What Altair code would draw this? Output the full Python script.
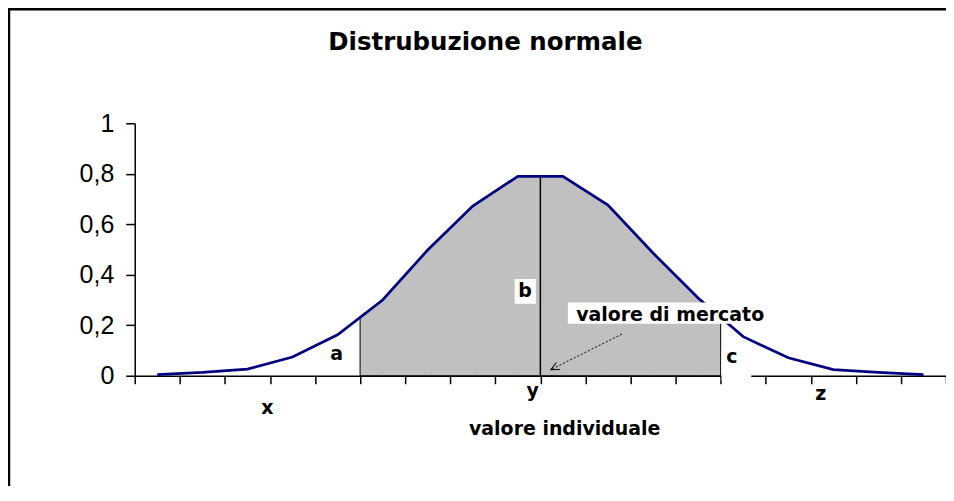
import altair as alt
import pandas as pd

# ---- data ----
x_centers = [k + 0.5 for k in range(18)]
density = [0.004, 0.013, 0.026, 0.074, 0.162, 0.30, 0.498, 0.672, 0.79,
           0.79, 0.676, 0.486, 0.308, 0.155, 0.071, 0.024, 0.013, 0.004]

area_x = [5, 5.5, 6.5, 7.5, 8.5, 9.5, 10.5, 11.5, 12.5, 13]
area_y = [0.234, 0.30, 0.498, 0.672, 0.79, 0.79, 0.676, 0.486, 0.308, 0.232]

peak_x = [9]
peak_y = [0.79]

x_ticks = list(range(19))
y_ticks = [0, 0.2, 0.4, 0.6, 0.8, 1]

label_text = ["a", "b", "c", "x", "y", "z", "valore individuale", "valore di mercato"]
label_x = [4.48, 8.66, 13.25, 2.94, 8.83, 15.22, 9.54, 11.88]
label_y = [0.087, 0.336, 0.073, -0.128, -0.061, -0.071, -0.213, 0.24]

box_x = [8.43, 9.61, 13.02]
box_x2 = [8.90, 14.04, 13.68]
box_y = [0.285, 0.206, -0.02]
box_y2 = [0.383, 0.290, 0.107]

arrow_x = [10.81, 9.23]
arrow_y = [0.165, 0.024]

title_text = ["Distrubuzione normale"]
title_x = [7.78]
title_y = [1.289]

# white backdrop behind the title (the chart area above the plot is plain white)
cover_x = [0.03]
cover_x2 = [18.6]
cover_y = [0.996]
cover_y2 = [1.47]

# chart-area border (its top and left edges are the ones visible)
frame_x = [-2.79]
frame_x2 = [18.6]
frame_y = [-0.6]
frame_y2 = [1.452]

BOLD = "DejaVu Sans"
W, H = 813, 253

xs = alt.Scale(domain=[0, 18], nice=False, zero=False)
ys = alt.Scale(domain=[0, 1], nice=False)

x_axis = alt.Axis(values=x_ticks, labels=False, title=None, grid=False,
                  tickSize=8, tickColor="black", domainColor="black",
                  domainWidth=1.5, tickWidth=1.5)
y_axis = alt.Axis(values=y_ticks, title=None, grid=False, tickSize=9,
                  tickColor="black", domainColor="black", domainWidth=1.5, tickWidth=1.5,
                  labelFont="Liberation Sans", labelFontSize=25, labelColor="black",
                  labelPadding=12,
                  labelExpr="datum.value == 0 ? '0' : datum.value == 1 ? '1' : replace(format(datum.value, '.1f'), '.', ',')")

line_df = pd.DataFrame({"x": x_centers, "y": density})
area_df = pd.DataFrame({"x": area_x, "y": area_y})
peak_df = pd.DataFrame({"x": peak_x, "y": peak_y})
lab_df = pd.DataFrame({"t": label_text, "x": label_x, "y": label_y})
box_df = pd.DataFrame({"x": box_x, "x2": box_x2, "y": box_y, "y2": box_y2})
arr_df = pd.DataFrame({"x": arrow_x, "y": arrow_y, "o": [0, 1]})
head_df = pd.DataFrame({"x": arrow_x[1:], "y": arrow_y[1:]})
title_df = pd.DataFrame({"t": title_text, "x": title_x, "y": title_y})
cover_df = pd.DataFrame({"x": cover_x, "x2": cover_x2, "y": cover_y, "y2": cover_y2})
frame_df = pd.DataFrame({"x": frame_x, "x2": frame_x2, "y": frame_y, "y2": frame_y2})

area = alt.Chart(area_df).mark_area(color="#C0C0C0", stroke="black", strokeWidth=1)

line = alt.Chart(line_df).mark_line(color="#000080", strokeWidth=2.7)

peak = alt.Chart(peak_df).mark_rule(color="black", strokeWidth=1.5).encode(y2=alt.datum(0))

boxes = alt.Chart(box_df).mark_rect(color="white").encode(x2="x2:Q", y2="y2:Q")

arrow = alt.Chart(arr_df).mark_line(color="black", strokeWidth=1, strokeDash=[2, 2]).encode(
    order="o:Q"
)

head = alt.Chart(head_df).mark_point(
    shape="M -1 -0.47 L 0 0 L -1 0.47", filled=False, stroke="black",
    strokeWidth=1, size=270, angle=153.5, opacity=1
)

labels = alt.Chart(lab_df).mark_text(
    font=BOLD, fontWeight="bold", fontSize=19, color="black",
    align="center", baseline="middle"
).encode(text="t:N")

cover = alt.Chart(cover_df).mark_rect(color="white", strokeWidth=0).encode(x2="x2:Q", y2="y2:Q")

title = alt.Chart(title_df).mark_text(
    font=BOLD, fontWeight="bold", fontSize=24.5, color="black",
    align="center", baseline="alphabetic"
).encode(text="t:N")

frame = alt.Chart(frame_df).mark_rect(
    filled=False, fill="transparent", stroke="black", strokeWidth=2.5
).encode(x2="x2:Q", y2="y2:Q")

chart = alt.layer(
    area, line, peak, boxes, arrow, head, labels, cover, title, frame
).encode(
    x=alt.X("x:Q", scale=xs, axis=x_axis),
    y=alt.Y("y:Q", scale=ys, axis=y_axis),
).properties(
    width=W, height=H,
    background="white",
    autosize=alt.AutoSizeParams(type="none"),
    padding={"left": 127, "top": 115, "right": 0, "bottom": 110},
).configure_view(stroke="transparent", strokeWidth=0)

chart.save("out.html", embed_options={"renderer": "svg", "actions": False})
